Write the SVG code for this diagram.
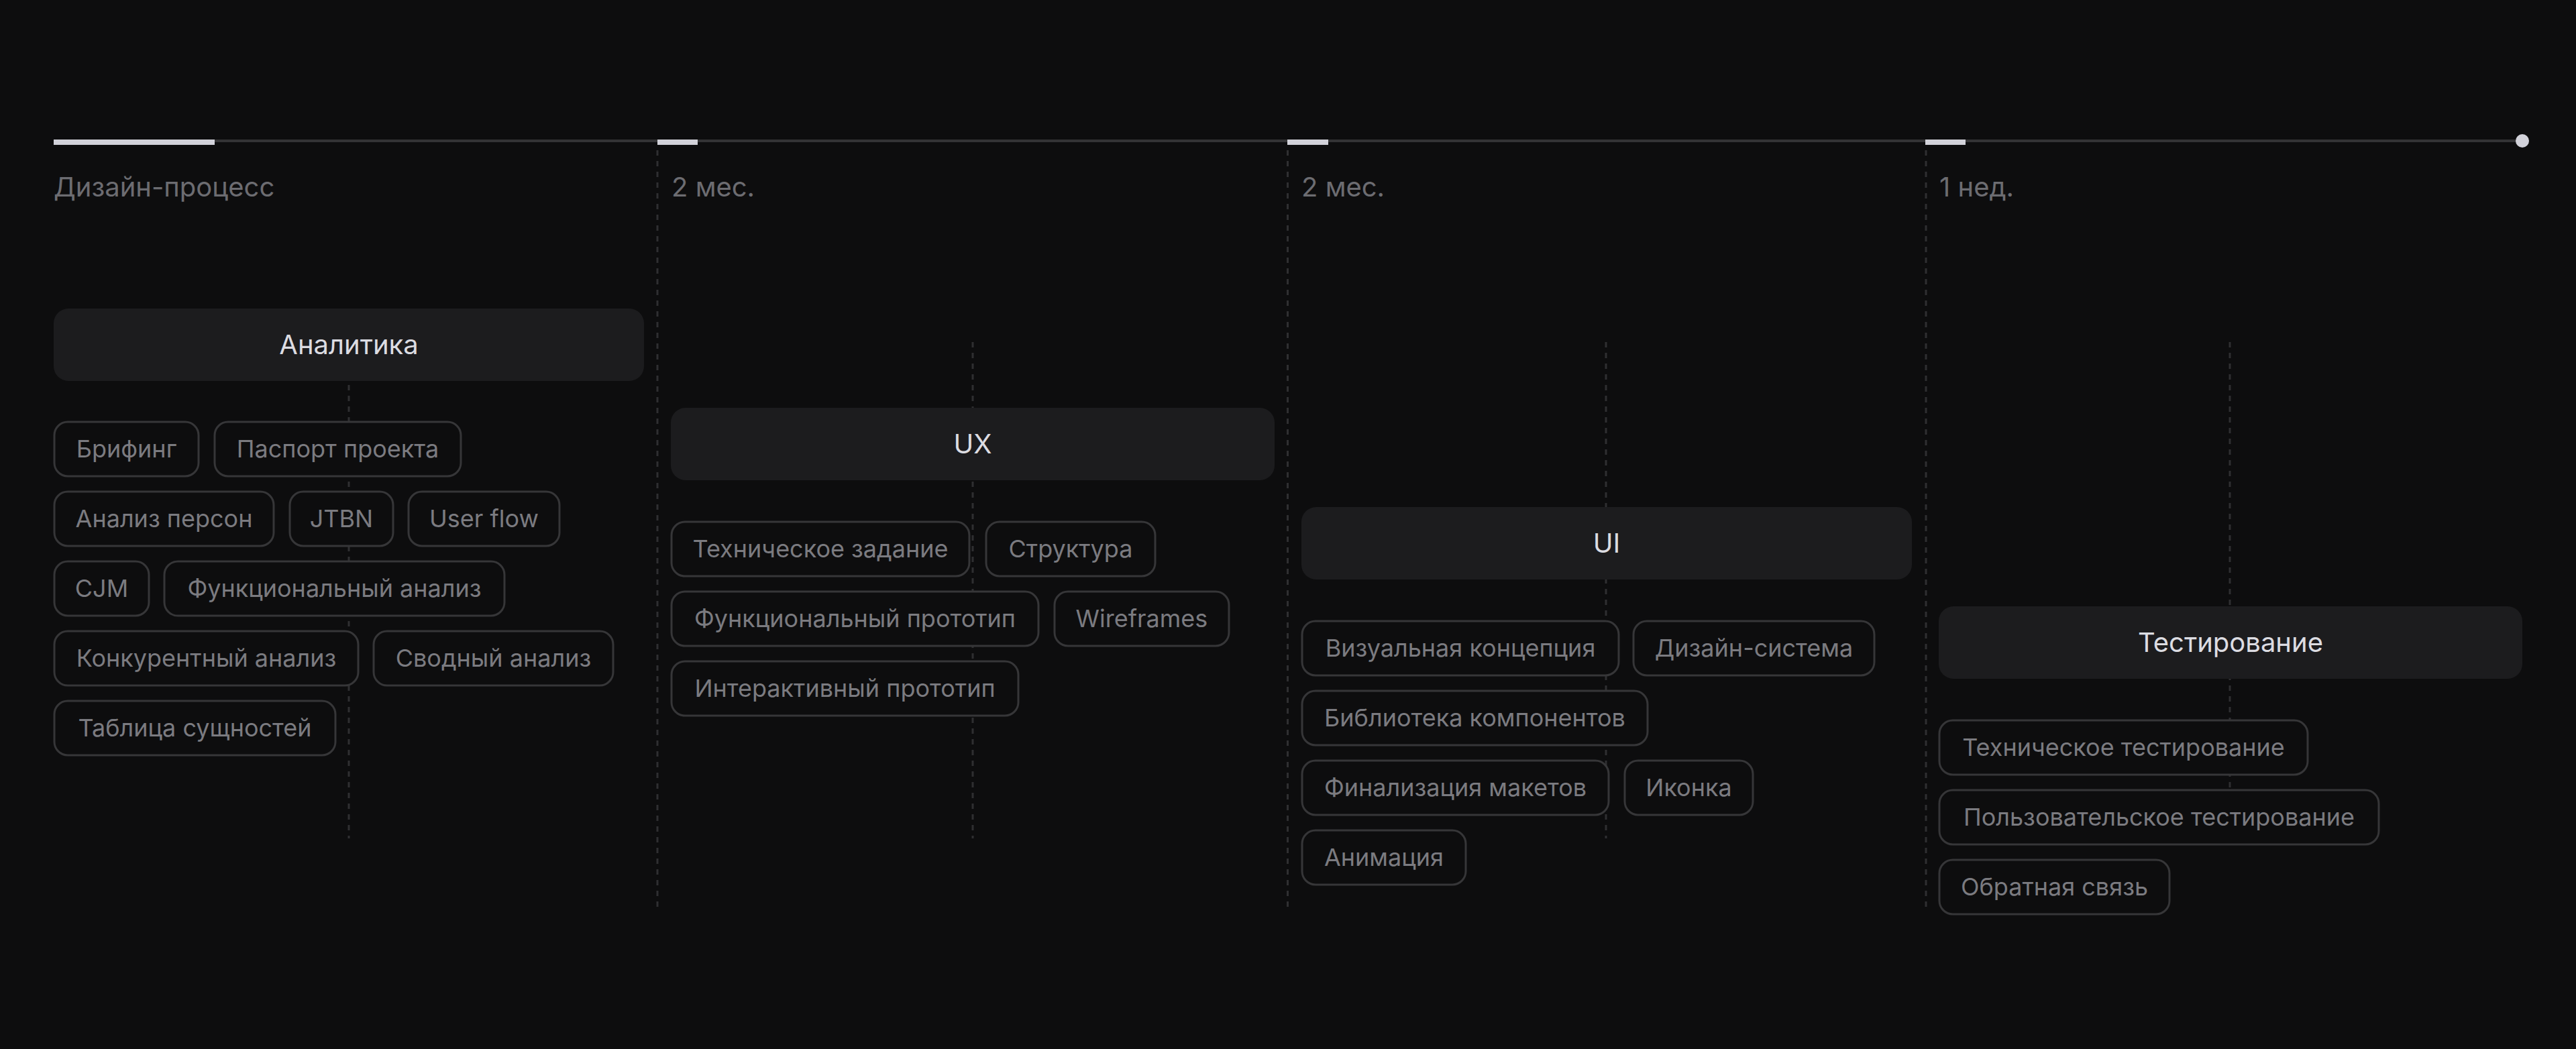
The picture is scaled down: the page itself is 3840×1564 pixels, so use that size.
<svg xmlns="http://www.w3.org/2000/svg" width="3840" height="1564" viewBox="0 0 3840 1564">
<style>
.bg{fill:#0d0d0e}
.sep{stroke:#2f2f31;stroke-width:3;stroke-dasharray:8 8;fill:none}
.axis{stroke:#333335;stroke-width:4}
.tick{fill:#d2d2da}
.hdr{font-family:Inter,"Noto Sans",sans-serif;font-size:40px;fill:#6c6c71}
.box{fill:#1c1c1e}
.btxt{font-family:Inter,"Noto Sans",sans-serif;font-size:40px;fill:#dcdce2;text-anchor:middle}
.chip{fill:#0d0d0e;stroke:#363638;stroke-width:3}
.ctxt{font-family:Inter,"Noto Sans",sans-serif;font-size:36px;fill:#7b7b80;text-anchor:middle}
</style>
<rect class="bg" x="0" y="0" width="3840" height="1564"/>
<g id="connectors">
<line class="axis" x1="80" y1="210" x2="3760" y2="210"/>
<line class="sep" x1="980" y1="224" x2="980" y2="1353"/>
<line class="sep" x1="1919.5" y1="224" x2="1919.5" y2="1353"/>
<line class="sep" x1="2871" y1="224" x2="2871" y2="1353"/>
<line class="sep" x1="520" y1="510" x2="520" y2="1250"/>
<line class="sep" x1="1450" y1="510" x2="1450" y2="1250"/>
<line class="sep" x1="2394" y1="510" x2="2394" y2="1250"/>
<line class="sep" x1="3324" y1="510" x2="3324" y2="1250"/>
</g>
<g id="timeline">
<rect class="tick" x="80" y="208" width="240" height="8"/>
<rect class="tick" x="980" y="208" width="60" height="8"/>
<rect class="tick" x="1919" y="208" width="61" height="8"/>
<rect class="tick" x="2870" y="208" width="60" height="8"/>
<circle class="tick" cx="3760" cy="210" r="10"/>
<text class="hdr" x="80" y="293">Дизайн-процесс</text>
<text class="hdr" x="1001" y="293">2 мес.</text>
<text class="hdr" x="1940" y="293">2 мес.</text>
<text class="hdr" x="2891" y="293">1 нед.</text>
</g>
<g id="analytics">
<rect class="box" x="80" y="460" width="880" height="108" rx="22"/>
<text class="btxt" x="520" y="528">Аналитика</text>
</g>
<g id="analytics-items">
<g id="a1"><rect class="chip" x="81" y="629" width="215" height="81" rx="20"/><text class="ctxt" x="188.5" y="682">Брифинг</text></g>
<g id="a2"><rect class="chip" x="320" y="629" width="367" height="81" rx="20"/><text class="ctxt" x="503.5" y="682">Паспорт проекта</text></g>
<g id="a3"><rect class="chip" x="81" y="733" width="327" height="81" rx="20"/><text class="ctxt" x="244.5" y="786">Анализ персон</text></g>
<g id="a4"><rect class="chip" x="432" y="733" width="154" height="81" rx="20"/><text class="ctxt" x="509" y="786">JTBN</text></g>
<g id="a5"><rect class="chip" x="609" y="733" width="225" height="81" rx="20"/><text class="ctxt" x="721.5" y="786">User flow</text></g>
<g id="a6"><rect class="chip" x="81" y="837" width="141" height="81" rx="20"/><text class="ctxt" x="151.5" y="890">CJM</text></g>
<g id="a7"><rect class="chip" x="245" y="837" width="507" height="81" rx="20"/><text class="ctxt" x="498.5" y="890">Функциональный анализ</text></g>
<g id="a8"><rect class="chip" x="81" y="941" width="453" height="81" rx="20"/><text class="ctxt" x="307.5" y="994">Конкурентный анализ</text></g>
<g id="a9"><rect class="chip" x="557" y="941" width="357" height="81" rx="20"/><text class="ctxt" x="735.5" y="994">Сводный анализ</text></g>
<g id="a10"><rect class="chip" x="81" y="1045" width="419" height="81" rx="20"/><text class="ctxt" x="290.5" y="1098">Таблица сущностей</text></g>
</g>
<g id="ux">
<rect class="box" x="1000" y="608" width="900" height="108" rx="22"/>
<text class="btxt" x="1450" y="676">UX</text>
</g>
<g id="ux-items">
<g id="u1"><rect class="chip" x="1001" y="778" width="444" height="81" rx="20"/><text class="ctxt" x="1223" y="831">Техническое задание</text></g>
<g id="u2"><rect class="chip" x="1470" y="778" width="252" height="81" rx="20"/><text class="ctxt" x="1596" y="831">Структура</text></g>
<g id="u3"><rect class="chip" x="1001" y="882" width="547" height="81" rx="20"/><text class="ctxt" x="1274.5" y="935">Функциональный прототип</text></g>
<g id="u4"><rect class="chip" x="1572" y="882" width="260" height="81" rx="20"/><text class="ctxt" x="1702" y="935">Wireframes</text></g>
<g id="u5"><rect class="chip" x="1001" y="986" width="517" height="81" rx="20"/><text class="ctxt" x="1259.5" y="1039">Интерактивный прототип</text></g>
</g>
<g id="ui">
<rect class="box" x="1940" y="756" width="910" height="108" rx="22"/>
<text class="btxt" x="2395" y="824">UI</text>
</g>
<g id="ui-items">
<g id="i1"><rect class="chip" x="1941" y="926" width="472" height="81" rx="20"/><text class="ctxt" x="2177" y="979">Визуальная концепция</text></g>
<g id="i2"><rect class="chip" x="2435" y="926" width="359" height="81" rx="20"/><text class="ctxt" x="2614.5" y="979">Дизайн-система</text></g>
<g id="i3"><rect class="chip" x="1941" y="1030" width="515" height="81" rx="20"/><text class="ctxt" x="2198.5" y="1083">Библиотека компонентов</text></g>
<g id="i4"><rect class="chip" x="1941" y="1134" width="457" height="81" rx="20"/><text class="ctxt" x="2169.5" y="1187">Финализация макетов</text></g>
<g id="i5"><rect class="chip" x="2422" y="1134" width="191" height="81" rx="20"/><text class="ctxt" x="2517.5" y="1187">Иконка</text></g>
<g id="i6"><rect class="chip" x="1941" y="1238" width="244" height="81" rx="20"/><text class="ctxt" x="2063" y="1291">Анимация</text></g>
</g>
<g id="testing">
<rect class="box" x="2890" y="904" width="870" height="108" rx="22"/>
<text class="btxt" x="3325" y="972">Тестирование</text>
</g>
<g id="testing-items">
<g id="t1"><rect class="chip" x="2891" y="1074" width="549" height="81" rx="20"/><text class="ctxt" x="3165.5" y="1127">Техническое тестирование</text></g>
<g id="t2"><rect class="chip" x="2891" y="1178" width="655" height="81" rx="20"/><text class="ctxt" x="3218.5" y="1231">Пользовательское тестирование</text></g>
<g id="t3"><rect class="chip" x="2891" y="1282" width="343" height="81" rx="20"/><text class="ctxt" x="3062.5" y="1335">Обратная связь</text></g>
</g>
</svg>
